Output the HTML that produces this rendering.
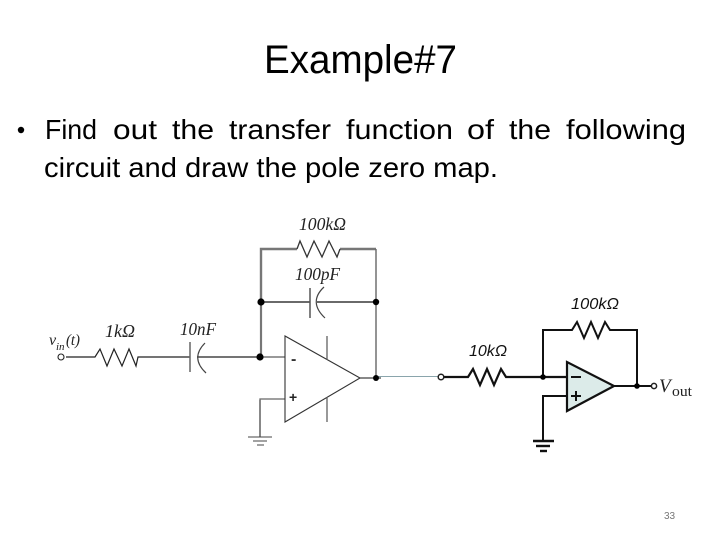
<!DOCTYPE html>
<html><head><meta charset="utf-8"><style>
html,body{margin:0;padding:0;background:#fff}
svg{display:block}
.b{font-family:"Liberation Sans",sans-serif;font-size:28px;fill:#000}
.s{font-family:"Liberation Serif",serif;font-style:italic;fill:#222}
.a{font-family:"Liberation Sans",sans-serif;font-style:italic;font-size:16px;fill:#111}
</style></head><body>
<svg width="720" height="540" viewBox="0 0 720 540" xmlns="http://www.w3.org/2000/svg">
<rect width="720" height="540" fill="#fff"/>
<text x="264" y="73" font-family="Liberation Sans" font-size="40" textLength="193" lengthAdjust="spacingAndGlyphs">Example#7</text>
<circle cx="21" cy="130" r="3.2" fill="#000"/>
<text class="b" x="45" y="139" textLength="52" lengthAdjust="spacingAndGlyphs">Find</text>
<text class="b" x="113" y="139" textLength="44" lengthAdjust="spacingAndGlyphs">out</text>
<text class="b" x="172" y="139" textLength="42" lengthAdjust="spacingAndGlyphs">the</text>
<text class="b" x="229" y="139" textLength="102" lengthAdjust="spacingAndGlyphs">transfer</text>
<text class="b" x="346" y="139" textLength="107" lengthAdjust="spacingAndGlyphs">function</text>
<text class="b" x="467" y="139" textLength="27" lengthAdjust="spacingAndGlyphs">of</text>
<text class="b" x="509" y="139" textLength="42" lengthAdjust="spacingAndGlyphs">the</text>
<text class="b" x="566" y="139" textLength="120" lengthAdjust="spacingAndGlyphs">following</text>
<text class="b" x="44" y="177" textLength="454" lengthAdjust="spacingAndGlyphs">circuit and draw the pole zero map.</text>
<!-- left circuit -->
<g fill="none" stroke-linejoin="miter">
<path d="M261 302V249H297" stroke="#777" stroke-width="2.4"/>
<path d="M340 249H376" stroke="#777" stroke-width="2.4"/>
<path d="M376 249V378" stroke="#666" stroke-width="1.4"/>
<path d="M261 302V357" stroke="#777" stroke-width="2.2"/>
<path d="M297 249L300 241L307 257L314 241L322 257L329 241L337 257L340 249" stroke="#333" stroke-width="1.3"/>
<path d="M261 302H310M317 302H376" stroke="#111" stroke-width="1.3"/>
<path d="M310 288V318" stroke="#555" stroke-width="1.5"/>
<path d="M324 287Q308 302 325 318" stroke="#444" stroke-width="1.2"/>
<path d="M66 357H95L100 349L107 366L114 349L122 366L129 349L136 366L138 357H190M197 357H261" stroke="#222" stroke-width="1.2"/>
<path d="M190 342V372" stroke="#666" stroke-width="1.5"/>
<path d="M205 343Q190 358 206 373" stroke="#444" stroke-width="1.2"/>
<path d="M285 399H260V437" stroke="#666" stroke-width="1.3"/>
<path d="M260 357H285" stroke="#333" stroke-width="1"/>
<path d="M260 400V437" stroke="#888" stroke-width="2"/>
<path d="M248 437H272M253 441H267M257 445H264" stroke="#444" stroke-width="1.1"/>
<path d="M285 336V422L360 378Z" stroke="#333" stroke-width="1.1" fill="#fff"/>
<path d="M327 336V360M327 397V422" stroke="#555" stroke-width="1.2"/>
<path d="M360 378H381" stroke="#111" stroke-width="1.1"/>
<path d="M376 376.5H438" stroke="#8aa5ac" stroke-width="1.1"/>
</g>
<circle cx="61" cy="357" r="3" fill="#fff" stroke="#222" stroke-width="1.1"/>
<circle cx="261" cy="302" r="3.6" fill="#000"/>
<circle cx="376" cy="302" r="3.2" fill="#000"/>
<circle cx="260" cy="357" r="3.6" fill="#000"/>
<circle cx="376" cy="378" r="3" fill="#000"/>
<text class="s" x="299" y="230" font-size="18" textLength="47" lengthAdjust="spacingAndGlyphs">100kΩ</text>
<text class="s" x="295" y="280" font-size="18" textLength="45" lengthAdjust="spacingAndGlyphs">100pF</text>
<text class="s" x="105" y="337" font-size="18" textLength="30" lengthAdjust="spacingAndGlyphs">1kΩ</text>
<text class="s" x="180" y="335" font-size="18" textLength="36" lengthAdjust="spacingAndGlyphs">10nF</text>
<text class="s" x="49" y="345" font-size="16">v</text>
<text class="s" x="56" y="350" font-size="11">in</text>
<text class="s" x="66" y="345" font-size="16" textLength="14" lengthAdjust="spacingAndGlyphs">(t)</text>
<text x="291" y="364" font-family="Liberation Sans" font-size="16" font-weight="bold" fill="#333">-</text>
<text x="289" y="402" font-family="Liberation Sans" font-size="14" font-weight="bold" fill="#222">+</text>
<!-- right circuit -->
<g fill="none">
<path d="M444 377H468L473 369L480 385L487 369L494 385L501 369L506 377H567" stroke="#111" stroke-width="2.2"/>
<path d="M543 377V330H572L577 322L584 338L591 322L598 338L605 322L610 330H637V386" stroke="#111" stroke-width="2"/>
<path d="M567 396H543V441" stroke="#111" stroke-width="2"/>
<path d="M533 441H554" stroke="#111" stroke-width="2.4"/>
<path d="M536 446H550" stroke="#111" stroke-width="2.4"/>
<path d="M540 451H547" stroke="#111" stroke-width="2.4"/>
<path d="M567 362V411L614 386Z" stroke="#111" stroke-width="2.2" fill="#dcebe9"/>
<path d="M614 386H651" stroke="#111" stroke-width="2"/>
<path d="M571 377H581" stroke="#111" stroke-width="2"/>
<path d="M571 396H581M576 391V401" stroke="#111" stroke-width="2"/>
</g>
<circle cx="441" cy="377" r="2.8" fill="#fff" stroke="#222" stroke-width="1.5"/>
<circle cx="543" cy="377" r="2.8" fill="#000"/>
<circle cx="637" cy="386" r="2.8" fill="#000"/>
<circle cx="654" cy="386" r="2.6" fill="#fff" stroke="#222" stroke-width="1.5"/>
<text class="a" x="571" y="309" textLength="48" lengthAdjust="spacingAndGlyphs">100kΩ</text>
<text class="a" x="469" y="356" textLength="38" lengthAdjust="spacingAndGlyphs">10kΩ</text>
<text class="s" x="659" y="392" font-size="19" fill="#000">V</text>
<text x="672" y="396" font-family="Liberation Serif" font-size="15" fill="#222" textLength="20" lengthAdjust="spacingAndGlyphs">out</text>
<text x="664" y="519" font-family="Liberation Sans" font-size="10" fill="#777">33</text>
</svg>
</body></html>
